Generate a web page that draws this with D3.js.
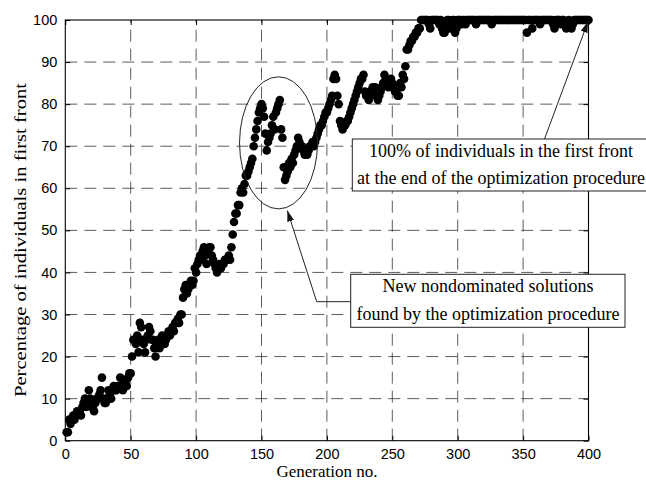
<!DOCTYPE html>
<html>
<head>
<meta charset="utf-8">
<script src="https://cdn.jsdelivr.net/npm/d3@7"></script>
<style>
  html, body { margin: 0; padding: 0; background: #fff; overflow: hidden; }
</style>
</head>
<body>
<svg id="chart" width="646" height="484"></svg>
<script>
// Share of the population in the first non-dominated front, one value per generation (1..400)
const firstFrontPct = [
  2, 2, 5, 4, 5, 6, 5, 6, 7, 7,
  7, 6, 8, 9, 10, 8, 9, 12, 10, 8,
  8, 7, 9, 10, 10, 11, 12, 15, 10, 9,
  9, 10, 12, 11, 10, 12, 13, 12, 12, 13,
  13, 15, 13, 12, 14, 14, 13, 15, 16, 16,
  20, 24, 24, 23, 25, 21, 28, 27, 24, 23,
  21, 24, 25, 27, 26, 24, 24, 22, 20, 23,
  24, 22, 23, 25, 24, 23, 24, 25, 26, 25,
  26, 27, 26, 28, 28, 29, 28, 30, 30, 34,
  36, 37, 35, 36, 37, 38, 37, 38, 41, 40,
  42, 43, 44, 43, 45, 46, 44, 42, 45, 46,
  46, 44, 43, 42, 41, 40, 41, 42, 41, 42,
  42, 43, 43, 43, 44, 43, 46, 49, 52, 54,
  54, 56, 56, 59, 60, 59, 61, 63, 63, 64,
  65, 66, 67, 70, 72, 74, 76, 78, 79, 80,
  79, 77, 73, 69, 71, 72, 73, 75, 77, 74,
  78, 79, 80, 81, 74, 72, 65, 62, 63, 64,
  66, 65, 67, 66, 68, 69, 70, 72, 71, 70,
  70, 69, 68, 69, 68, 69, 70, 70, 71, 70,
  71, 72, 73, 74, 75, 75, 76, 77, 78, 78,
  79, 80, 81, 82, 86, 87, 86, 82, 80, 76,
  75, 74, 75, 75, 76, 76, 77, 78, 79, 80,
  81, 82, 83, 84, 85, 86, 86, 87, 83, 82,
  82, 81, 83, 82, 84, 83, 84, 82, 81, 82,
  83, 84, 85, 87, 86, 85, 84, 85, 86, 85,
  84, 83, 83, 82, 82, 85, 84, 87, 86, 89,
  93, 93, 94, 95, 95, 96, 96, 97, 97, 98,
  98, 100, 100, 100, 100, 100, 100, 99, 98, 100,
  100, 100, 100, 100, 100, 99, 100, 98, 97, 97,
  99, 100, 100, 98, 99, 100, 100, 97, 98, 100,
  100, 100, 99, 100, 100, 99, 100, 100, 100, 100,
  100, 100, 100, 99, 100, 100, 100, 100, 100, 100,
  100, 100, 100, 100, 100, 99, 100, 100, 100, 100,
  100, 100, 100, 100, 100, 100, 100, 100, 100, 100,
  100, 100, 100, 100, 100, 100, 100, 100, 100, 100,
  100, 100, 97, 100, 100, 100, 98, 100, 100, 100,
  100, 100, 99, 100, 100, 100, 100, 100, 100, 100,
  100, 100, 99, 98, 100, 100, 100, 100, 99, 100,
  100, 99, 98, 99, 100, 99, 98, 99, 100, 100,
  100, 100, 100, 100, 100, 100, 100, 100, 100, 100
];

const xTickValues = [0, 50, 100, 150, 200, 250, 300, 350, 400];
const yTickValues = [0, 10, 20, 30, 40, 50, 60, 70, 80, 90, 100];

const xTitle = "Generation no.";
const yTitle = "Percentage of individuals in first front";
const endNote = ["100% of individuals in the first front", "at the end of the optimization procedure"];
const burstNote = ["New nondominated solutions", "found by the optimization procedure"];

// ---- layout ----
const W = 646, H = 484;
const plot = { left: 65.3, right: 588.5, top: 20, bottom: 440.7 };
const serif = "'Liberation Serif', 'Times New Roman', Times, serif";
const sans = "'Liberation Sans', Arial, Helvetica, sans-serif";

const svg = d3.select("#chart");

const x = d3.scaleLinear().domain([0, 400]).range([plot.left, plot.right]);
const y = d3.scaleLinear().domain([0, 100]).range([plot.bottom, plot.top]);

// arrowhead marker
svg.append("defs").append("marker")
  .attr("id", "head")
  .attr("markerUnits", "userSpaceOnUse")
  .attr("markerWidth", 11).attr("markerHeight", 7)
  .attr("refX", 11).attr("refY", 3.5)
  .attr("orient", "auto")
  .append("path").attr("d", "M0,0 L11,3.5 L0,7 Z").attr("fill", "#111");

// ---- dashed grid ----
const grid = svg.append("g").attr("stroke", "#333").attr("stroke-width", 0.8)
  .attr("stroke-dasharray", "12,7").attr("fill", "none");
grid.selectAll("line.v").data(xTickValues.slice(1, -1)).join("line")
  .attr("class", "v")
  .attr("x1", d => x(d)).attr("x2", d => x(d))
  .attr("y1", plot.bottom).attr("y2", plot.top);
grid.selectAll("line.h").data(yTickValues.slice(1, -1)).join("line")
  .attr("class", "h")
  .attr("x1", plot.left).attr("x2", plot.right)
  .attr("y1", d => y(d)).attr("y2", d => y(d));

// ---- axes (MATLAB style: inward ticks, boxed) ----
const tick = 5;
const xAxis = d3.axisBottom(x).tickValues(xTickValues).tickSize(-tick).tickPadding(8).tickFormat(d3.format("d"));
const yAxis = d3.axisLeft(y).tickValues(yTickValues).tickSize(-tick).tickPadding(8).tickFormat(d3.format("d"));
const xTop = d3.axisTop(x).tickValues(xTickValues).tickSize(-tick).tickFormat("");
const yRight = d3.axisRight(y).tickValues(yTickValues).tickSize(-tick).tickFormat("");

function styleAxis(g) {
  g.select(".domain").remove();
  g.selectAll(".tick line").attr("stroke", "#000").attr("stroke-width", 1);
  g.selectAll(".tick text").attr("fill", "#000")
    .style("font-family", sans).style("font-size", "14.5px");
}
svg.append("g").attr("transform", `translate(0,${plot.bottom})`).call(xAxis).call(styleAxis);
svg.append("g").attr("transform", `translate(${plot.left},0)`).call(yAxis).call(styleAxis);
svg.append("g").attr("transform", `translate(0,${plot.top})`).call(xTop).call(styleAxis);
svg.append("g").attr("transform", `translate(${plot.right},0)`).call(yRight).call(styleAxis);

svg.append("rect")
  .attr("x", plot.left).attr("y", plot.top)
  .attr("width", plot.right - plot.left).attr("height", plot.bottom - plot.top)
  .attr("fill", "none").attr("stroke", "#000").attr("stroke-width", 1.1);

// ---- data points ----
svg.append("g").selectAll("circle")
  .data(firstFrontPct)
  .join("circle")
  .attr("cx", (d, i) => x(i + 1))
  .attr("cy", d => y(d))
  .attr("r", 4.3)
  .attr("fill", "#000");

// ---- axis titles ----
svg.append("text")
  .attr("x", (plot.left + plot.right) / 2).attr("y", 477)
  .attr("text-anchor", "middle")
  .style("font-family", serif).style("font-size", "17px")
  .text(xTitle);

svg.append("text")
  .attr("transform", `translate(25.5,${(83 + 397) / 2}) rotate(-90)`)
  .attr("text-anchor", "middle")
  .attr("textLength", 314).attr("lengthAdjust", "spacingAndGlyphs")
  .style("font-family", serif).style("font-size", "17px")
  .text(yTitle);

// ---- annotations ----
// ellipse around the burst of new nondominated solutions
const ell = { gen: 163, pct: 70.8, rGen: 29.8, rPct: 15.7 };
svg.append("ellipse")
  .attr("cx", x(ell.gen)).attr("cy", y(ell.pct))
  .attr("rx", x(ell.rGen) - x(0)).attr("ry", y(0) - y(ell.rPct))
  .attr("fill", "none").attr("stroke", "#222").attr("stroke-width", 1);

// callout boxes
function callout(box, lines, baselines) {
  const g = svg.append("g");
  g.append("rect")
    .attr("x", box.x).attr("y", box.y).attr("width", box.w).attr("height", box.h)
    .attr("fill", "#fff").attr("stroke", "#222").attr("stroke-width", 1);
  g.selectAll("text").data(lines).join("text")
    .attr("x", box.cx).attr("y", (d, i) => baselines[i])
    .attr("text-anchor", "middle")
    .style("font-family", serif).style("font-size", "18px").attr("fill", "#000")
    .text(d => d);
}

// arrow to the last generation (100 %)
svg.append("line")
  .attr("x1", 544.5).attr("y1", 139)
  .attr("x2", x(399.6)).attr("y2", y(99.6))
  .attr("stroke", "#222").attr("stroke-width", 1)
  .attr("marker-end", "url(#head)");

// elbow arrow from the lower box to the ellipse
svg.append("path")
  .attr("d", d3.line()([[350.7, 301.7], [316.7, 301.7], [287.3, 210.5]]))
  .attr("fill", "none").attr("stroke", "#222").attr("stroke-width", 1)
  .attr("marker-end", "url(#head)");

callout({ x: 352.3, y: 139, w: 300, h: 52, cx: 501 }, endNote, [156.5, 184]);
callout({ x: 350.7, y: 274.3, w: 274.3, h: 53, cx: 488 }, burstNote, [292.3, 319.5]);
</script>
</body>
</html>
